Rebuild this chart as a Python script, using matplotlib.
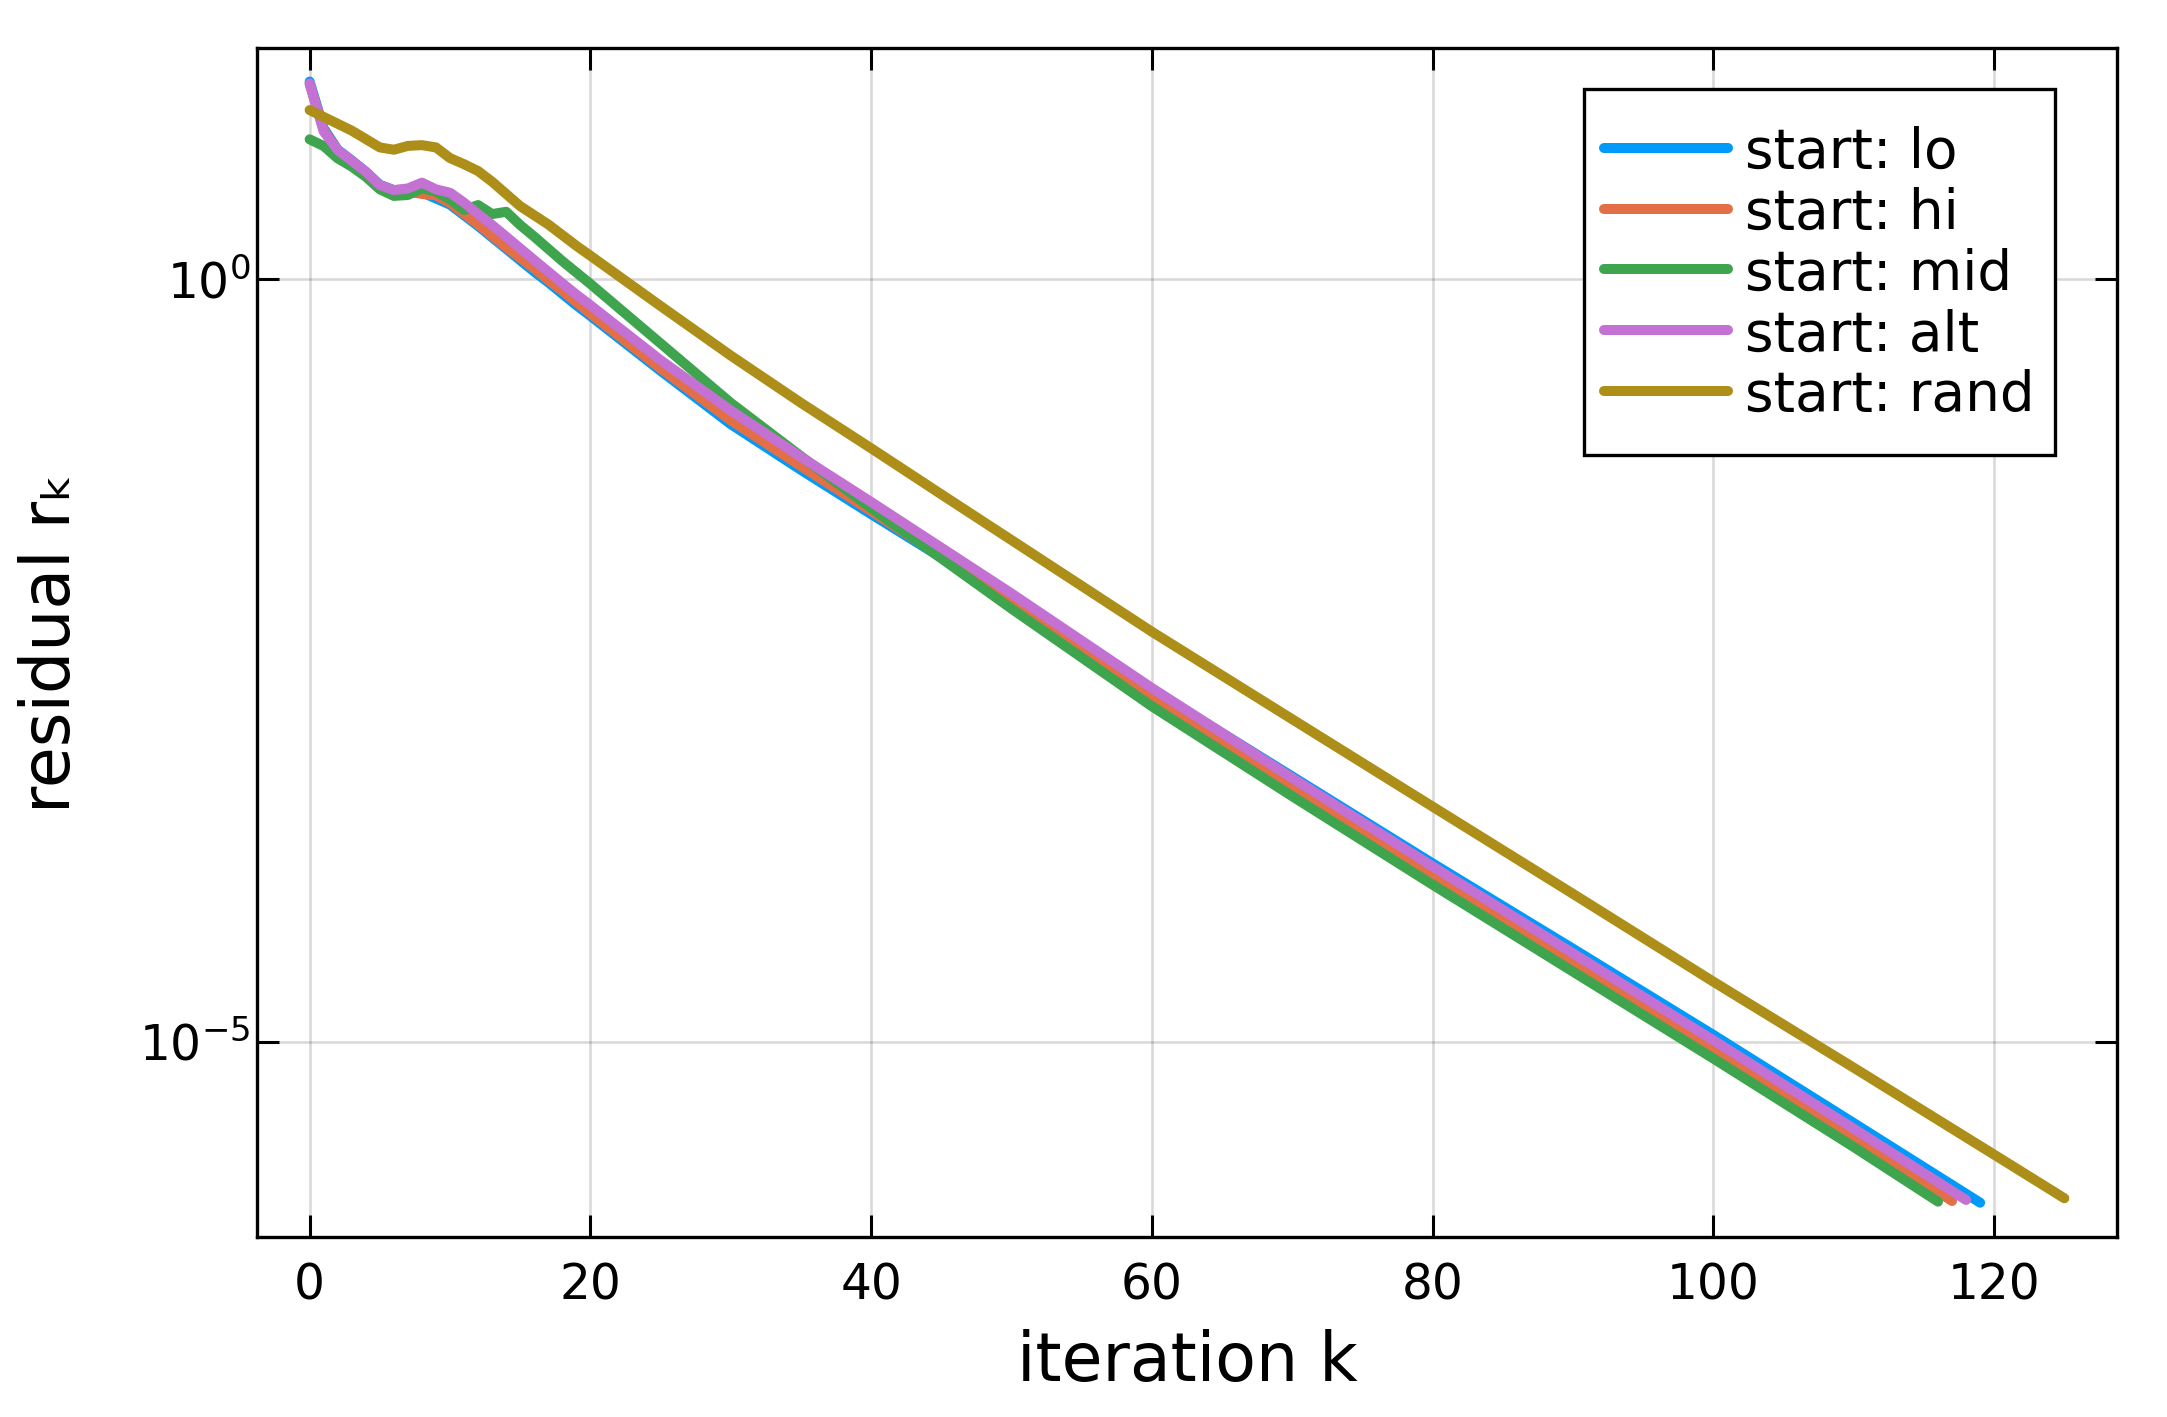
import numpy as np
import matplotlib
matplotlib.use("Agg")
import matplotlib.pyplot as plt
from matplotlib.ticker import FixedLocator, NullLocator, LogFormatterSciNotation
from matplotlib.legend_handler import HandlerLine2D

# residual curves as log10(r_k) at selected iterations
k_tail = [25, 30, 35, 40, 45, 50, 60, 70, 80, 90, 100, 110]

k_lo = list(range(21)) + k_tail + [119]
log_lo = [1.297, 0.99, 0.85, 0.78, 0.705, 0.62, 0.585, 0.59, 0.57, 0.53, 0.49,
          0.42, 0.35, 0.275, 0.20, 0.125, 0.05, -0.02, -0.095, -0.17, -0.24,
          -0.60, -0.95, -1.25, -1.54, -1.825, -2.105, -2.69, -3.26, -3.83, -4.39,
          -4.955, -5.533, -6.055]

k_hi = list(range(21)) + k_tail + [117]
log_hi = [1.28, 0.98, 0.845, 0.775, 0.70, 0.615, 0.58, 0.575, 0.56, 0.55, 0.50,
          0.43, 0.36, 0.285, 0.21, 0.14, 0.07, -0.005, -0.075, -0.15, -0.225,
          -0.585, -0.925, -1.225, -1.52, -1.82, -2.12, -2.74, -3.33, -3.91, -4.48,
          -5.05, -5.63, -6.044]

k_mid = list(range(21)) + k_tail + [116]
log_mid = [0.918, 0.874, 0.793, 0.739, 0.673, 0.59, 0.547, 0.553, 0.597, 0.575, 0.524,
           0.455, 0.487, 0.428, 0.443, 0.356, 0.28, 0.20, 0.12, 0.045, -0.03,
           -0.42, -0.81, -1.16, -1.50, -1.83, -2.16, -2.80, -3.39, -3.97, -4.54,
           -5.11, -5.69, -6.048]

k_alt = list(range(21)) + k_tail + [118]
log_alt = [1.285, 0.97, 0.848, 0.777, 0.706, 0.618, 0.585, 0.596, 0.634, 0.590, 0.568,
           0.503, 0.428, 0.356, 0.280, 0.203, 0.126, 0.050, -0.026, -0.10, -0.17,
           -0.53, -0.86, -1.165, -1.46, -1.76, -2.06, -2.68, -3.27, -3.85, -4.42,
           -4.99, -5.57, -6.037]

k_rand = list(range(21)) + k_tail + [120, 125]
log_rand = [1.11, 1.065, 1.02, 0.975, 0.92, 0.865, 0.85, 0.875, 0.88, 0.865, 0.795,
            0.755, 0.71, 0.64, 0.56, 0.48, 0.42, 0.36, 0.29, 0.22, 0.155,
            -0.175, -0.50, -0.81, -1.108, -1.41, -1.71, -2.311, -2.885, -3.458, -4.03,
            -4.606, -5.17, -5.74, -6.026]

labels = ["start: lo", "start: hi", "start: mid", "start: alt", "start: rand"]
colors = ["#009AFA", "#E36F47", "#3EA44E", "#C371D2", "#AC8E18"]
series = [(k_lo, log_lo), (k_hi, log_hi), (k_mid, log_mid), (k_alt, log_alt), (k_rand, log_rand)]


class LegendLine(HandlerLine2D):
    # keep the legend sample at mid x-height even with tall legend rows
    def create_artists(self, legend, orig_handle, xdescent, ydescent,
                       width, height, fontsize, trans):
        arts = super().create_artists(legend, orig_handle, xdescent, ydescent,
                                      width, height, fontsize, trans)
        for a in arts:
            a.set_ydata(np.full(len(a.get_xdata()), 0.37 * fontsize))
        return arts


W, H = 2167, 1417
fig = plt.figure(figsize=(W / 100, H / 100), dpi=100)
ax = fig.add_axes([257 / W, 1 - 1237 / H, (2117 - 257) / W, (1237 - 48) / H])

lines = []
for (k, lv), lab, col in zip(series, labels, colors):
    ln, = ax.plot(k, 10.0 ** np.array(lv), color=col, lw=7.2, label=lab,
                  solid_capstyle="round", solid_joinstyle="round")
    lines.append(ln)

ax.set_yscale("log")
ax.set_xlim(-3.75, 128.75)
ax.set_ylim(10 ** -6.28, 10 ** 1.517)
ax.set_xticks(range(0, 121, 20))
ax.yaxis.set_major_locator(FixedLocator([1e-5, 1.0]))
ax.yaxis.set_major_formatter(LogFormatterSciNotation())
ax.yaxis.set_minor_locator(NullLocator())

ax.tick_params(direction="in", length=16, width=2.2, labelsize=35,
               top=True, right=True, colors="black")
ax.tick_params(axis="x", pad=17.5)
ax.tick_params(axis="y", pad=4.5)
ax.grid(True, color="black", alpha=0.15, lw=1.9)
for sp in ax.spines.values():
    sp.set_linewidth(2.4)
    sp.set_color("black")

ax.set_xlabel("iteration k", fontsize=48, labelpad=14)
ax.set_ylabel("residual rₖ", fontsize=48, labelpad=40)

leg = ax.legend(loc="upper right", bbox_to_anchor=(0.9667, 0.9655), borderaxespad=0,
                fontsize=39.5, frameon=True, fancybox=False, edgecolor="black",
                framealpha=1, handlelength=2.245, handletextpad=0.31,
                handleheight=1.9, labelspacing=-0.372, borderpad=0.38,
                handler_map={ln: LegendLine() for ln in lines})
leg.get_frame().set_linewidth(2.4)

fig.savefig("out.png", dpi=100, facecolor="white")
